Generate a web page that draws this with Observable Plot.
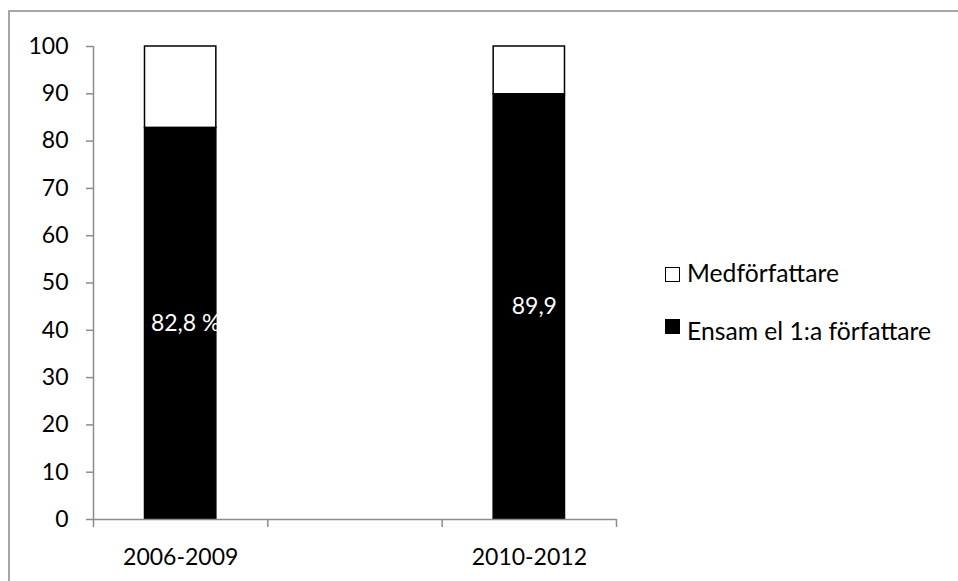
<!DOCTYPE html>
<html><head><meta charset="utf-8">
<script src="https://cdn.jsdelivr.net/npm/d3@7"></script>
<script src="https://cdn.jsdelivr.net/npm/@observablehq/plot@0.6"></script>
<style>
body{margin:0;background:#fff;font-family:Lato,"Open Sans",sans-serif;}
#wrap{position:relative;width:958px;height:581px;overflow:hidden;background:#fff;}
#frame{position:absolute;left:8px;top:10px;width:1000px;height:1000px;border:2px solid #a6a6a6;box-sizing:border-box;pointer-events:none;}
#chart{position:absolute;left:0;top:0;}
.li{position:absolute;left:665px;height:26px;font-size:24.7px;line-height:26px;color:#000;white-space:nowrap;}
.sw{position:absolute;left:0;width:15px;height:15px;box-sizing:border-box;border:1.5px solid #000;}
.lt{position:absolute;left:22px;top:0;}
</style></head>
<body>
<div id="wrap">
  <div id="chart"></div>
  <div id="frame"></div>
  <div id="legend"></div>
</div>
<script>
const categories = ["2006-2009", "", "2010-2012"];
const periods = ["2006-2009", "2010-2012"];
const ensam = [82.8, 89.9];
const medforfattare = [17.2, 10.1];
const valueLabels = ["82,8 %", "89,9"];
const seriesNames = ["Ensam el 1:a författare", "Medförfattare"];
const seriesColors = ["#000000", "#ffffff"];
const yTicks = d3.range(0, 101, 10);

const rows = periods.flatMap((p, i) => [
  {period: p, idx: categories.indexOf(p), series: seriesNames[0], value: ensam[i], label: valueLabels[i]},
  {period: p, idx: categories.indexOf(p), series: seriesNames[1], value: medforfattare[i], label: ""}
]);
const bottomRows = rows.filter(d => d.series === seriesNames[0]);

const gray = "#8c8c8c";
const chart = Plot.plot({
  width: 958, height: 581,
  marginLeft: 93, marginRight: 342, marginTop: 46, marginBottom: 62,
  style: {fontFamily: "Lato, 'Open Sans', sans-serif", fontSize: "23px", background: "transparent", color: "#000"},
  x: {type: "linear", domain: [0, categories.length], axis: null},
  y: {domain: [0, 100], axis: null},
  color: {domain: seriesNames, range: seriesColors},
  marks: [
    Plot.rectY(rows, {x1: "idx", x2: d => d.idx + 1, y: "value", fill: "series", stroke: "#000", strokeWidth: 1.5, insetLeft: 51.5, insetRight: 51.5}),
    Plot.ruleX([0], {y1: 0, y2: 100, stroke: gray, strokeWidth: 1.5}),
    Plot.ruleY([0], {x1: 0, x2: categories.length, stroke: gray, strokeWidth: 1.5}),
    Plot.axisY({ticks: yTicks, tickSize: 7, tickPadding: 18, stroke: gray, strokeWidth: 1.5, fill: "#000", fontSize: 23, label: null}),
    Plot.axisX({ticks: d3.range(categories.length + 1), tickFormat: () => "", tickSize: 8, stroke: gray, strokeWidth: 1.5, label: null}),
    Plot.axisX({ticks: periods.map(p => categories.indexOf(p) + 0.5), tickFormat: v => categories[Math.floor(v)], tickSize: 0, tickPadding: 29, fill: "#000", fontSize: 23, label: null}),
    Plot.text(bottomRows, {x: d => d.idx + 0.5, y: d => d.value / 2, text: "label", fill: "#fff", fontSize: 23, dx: 5})
  ]
});
document.getElementById("chart").appendChild(chart);

const legendItems = [
  {name: seriesNames[1], color: seriesColors[1], top: 260, sq: 7},
  {name: seriesNames[0], color: seriesColors[0], top: 318, sq: 1}
];
const lg = document.getElementById("legend");
for (const it of legendItems) {
  const d = document.createElement("div");
  d.className = "li";
  d.style.top = it.top + "px";
  d.innerHTML = `<span class="sw" style="top:${it.sq}px;background:${it.color}"></span><span class="lt">${it.name}</span>`;
  lg.appendChild(d);
}
</script>
</body></html>
